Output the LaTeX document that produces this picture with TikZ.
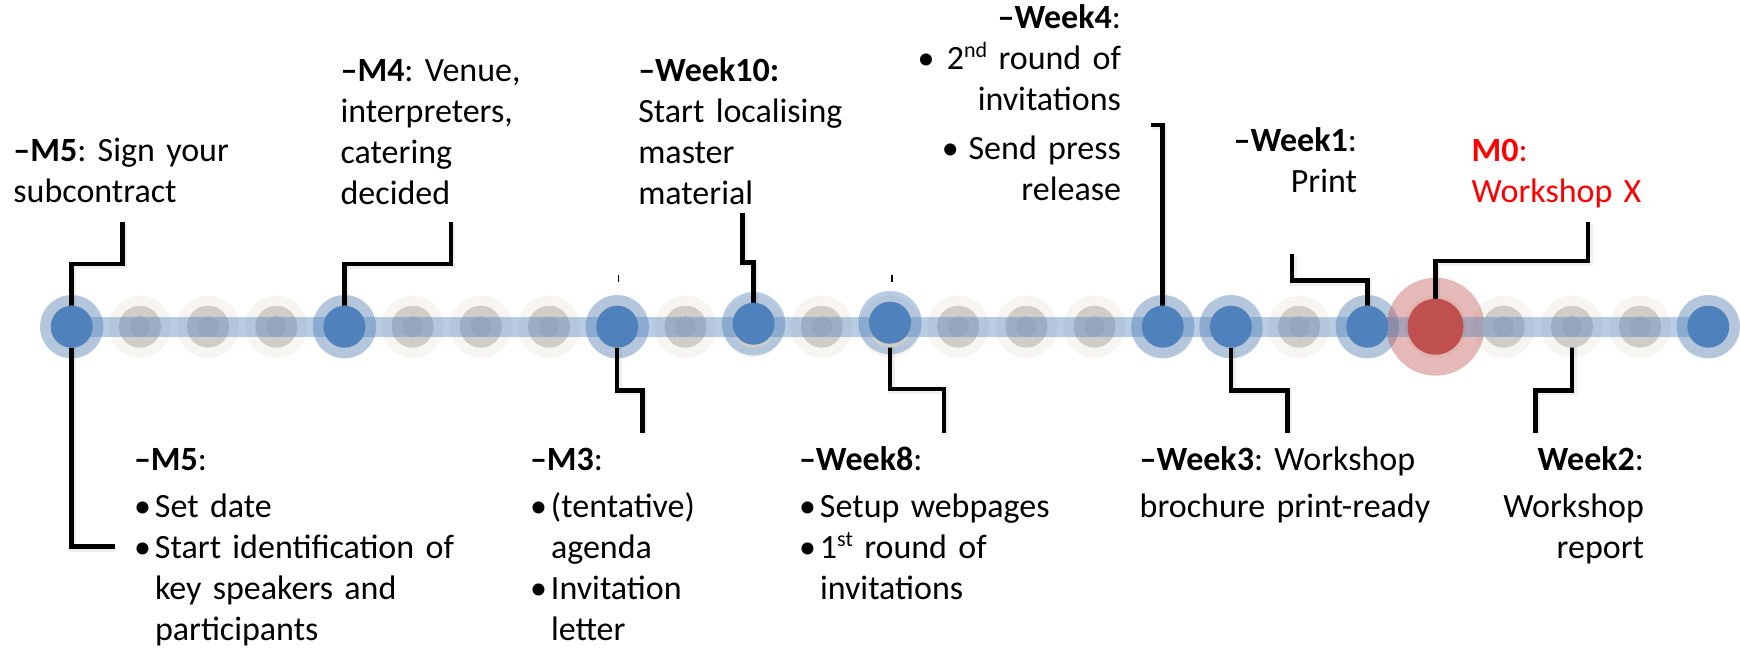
\documentclass[tikz,border=0pt]{standalone}
\usepackage{fontspec}
\setmainfont{Carlito}
\usetikzlibrary{calc}
\definecolor{bl}{RGB}{79,129,189}
\definecolor{rd}{RGB}{192,80,77}
\definecolor{gin}{RGB}{207,205,200}
\definecolor{gout}{RGB}{246,245,241}
\definecolor{gdot}{RGB}{149,165,190}
\definecolor{txtred}{RGB}{255,0,0}
\pgfdeclarelayer{Lbg}\pgfdeclarelayer{Lgo}\pgfdeclarelayer{Lring}\pgfdeclarelayer{Lline}
\pgfdeclarelayer{Lgi}\pgfdeclarelayer{Lbar}\pgfdeclarelayer{Ldot}
\pgfsetlayers{Lbg,Lgo,Lring,Lline,Lgi,Lbar,Ldot,main}
\newcommand\bul{\makebox[15.75pt][l]{•}}
\newcommand\hang{\makebox[15.75pt]{}}
\newcommand\supx[1]{\raisebox{0.36em}{\fontsize{16.5pt}{16.5pt}\selectfont #1}}
\begin{document}
\frenchspacing
\begin{tikzpicture}[x=0.75pt,y=-0.75pt,
  txt/.style={inner sep=0pt, outer sep=0pt, text width=500pt,
    font=\fontsize{25.5pt}{30.8pt}\selectfont\frenchspacing, align=left, anchor=base west},
  txtr/.style={txt, align=right, anchor=base east},
  conn/.style={line width=3.4pt, black,
    preaction={draw=black, opacity=0.06, line width=5pt,
      transform canvas={xshift=1pt,yshift=-1.2pt}}},
  inb/.style={circle, fill=bl, minimum size=31.5pt, inner sep=0pt},
  inr/.style={circle, fill=rd, minimum size=42pt, inner sep=0pt},
  ing/.style={circle, fill=gin, minimum size=31.5pt, inner sep=0pt}]
\useasboundingbox (0,0) rectangle (1740,648);
\begin{pgfonlayer}{Lbg}
  \fill[white] (0,0) rectangle (1740,648);
\end{pgfonlayer}
% slots
\foreach \k in {0,...,24}{\coordinate (s\k) at ({71.7+68.19*\k},326.7);}
% milestone circles
\node[inb] (c0) at (s0) {};
\node[inb] (c4) at (s4) {};
\node[inb] (c8) at (s8) {};
\node[inb] (c10) at ($(s10)+(0,-3)$) {};
\node[inb] (c12) at ($(s12)+(0,-4)$) {};
\node[inb] (c16) at (s16) {};
\node[inb] (c17) at (s17) {};
\node[inb] (c19) at (s19) {};
\node[inr] (c20) at (s20) {};
\node[inb] (c24) at (s24) {};
\begin{pgfonlayer}{Lgo}
  \foreach \k in {0,...,24}{\fill[gout] (s\k) circle (31);}
\end{pgfonlayer}
\begin{pgfonlayer}{Lgi}
  \foreach \k in {0,...,24}{\node[ing] (g\k) at (s\k) {};}
\end{pgfonlayer}
\begin{pgfonlayer}{Lring}
  \foreach \c in {c0,c4,c8,c10,c12,c16,c17,c19,c24}{\fill[bl,opacity=0.4] (\c) circle (31.7);}
  \fill[rd,opacity=0.4] (c20) circle (49);
\end{pgfonlayer}
\begin{pgfonlayer}{Lbar}
  \fill[bl,opacity=0.4] ($(s0)+(0,-10)$) rectangle ($(s24)+(0,10)$);
\end{pgfonlayer}
\begin{pgfonlayer}{Ldot}
  \foreach \k in {1,2,3,5,6,7,9,11,13,14,15,18,21,22,23}{\fill[gdot] (s\k) circle (10.3);}
  \draw[line width=0.9pt] (618.3,275) -- (618.3,282);
  \draw[line width=0.9pt] (891.9,275) -- (891.9,282);
\end{pgfonlayer}
% connector free ends
\coordinate (t0) at (122.5,222);
\coordinate (b0) at (114.8,546.7);
\coordinate (t4) at (450.8,222);
\coordinate (b8) at (642.5,433);
\coordinate (t10) at (742.6,213);
\coordinate (b12) at (944,433);
\coordinate (t16) at (1151,125);
\coordinate (b17) at (1287.3,433);
\coordinate (t19) at (1292.2,254.3);
\coordinate (t20) at (1588,222);
\coordinate (b22) at (1535.7,433);
\begin{pgfonlayer}{Lline}
  \draw[conn] (c0.center) |- ($(t0)+(0,42)$) -- (t0);
  \draw[conn] (c0.center) |- (b0);
  \draw[conn] (c4.center) |- ($(t4)+(0,42)$) -- (t4);
  \draw[conn] (c8.center) |- ($(b8)+(0,-42.5)$) -- (b8);
  \draw[conn] (c10.center) |- ($(t10)+(0,49.3)$) -- (t10);
  \draw[conn] (c12.center) |- ($(b12)+(0,-44)$) -- (b12);
  \draw[conn] (c16.center) |- (t16);
  \draw[conn] (c17.center) |- ($(b17)+(0,-42.5)$) -- (b17);
  \draw[conn] (c19.center) |- ($(t19)+(0,26.4)$) -- (t19);
  \draw[conn] (c20.center) |- ($(t20)+(0,39)$) -- (t20);
  \draw[conn] (g22.center) |- ($(b22)+(0,-42.5)$) -- (b22);
\end{pgfonlayer}
% texts above
\node[txt] (tm5) at (13.4,161.7) {\textbf{–M5}: Sign your\\subcontract};
\node[txt] (tm4) at (340.6,81.7) {\textbf{–M4}: Venue,\\interpreters,\\catering\\decided};
\node[txt] (tw10) at (638.3,81.7) {\textbf{–Week10:}\\Start localising\\master\\material};
\node[txtr] (tw4) at (1121,28.3) {\textbf{–Week4}:\\\makebox[22pt][l]{•}2\supx{nd} round of\\invitations\\[6pt]\makebox[20pt][l]{•}Send press\\release};
\node[txtr] (tw1) at (1357,151.7) {\textbf{–Week1}:\\Print};
\node[txt, text=txtred] (tm0) at (1471.7,161.7) {\textbf{M0}:\\Workshop X};
% texts below
\node[txt] (bm5) at (134,470) {\textbf{–M5}:\\[5pt]\bul Set date\\\bul Start identification of\\\hang key speakers and\\\hang participants};
\node[txt] (bm3) at (530,470) {\textbf{–M3}:\\[5pt]\bul (tentative)\\\hang agenda\\\bul Invitation\\\hang letter};
\node[txt] (bw8) at (799,470) {\textbf{–Week8}:\\[5pt]\bul Setup webpages\\\bul 1\supx{st} round of\\\hang invitations};
\node[txt] (bw3) at (1139.7,470) {\textbf{–Week3}: Workshop\\[5pt]brochure print-ready};
\node[txtr] (bw2) at (1644,470) {\textbf{Week2}:\\[5pt]Workshop\\report};
\end{tikzpicture}
\end{document}
